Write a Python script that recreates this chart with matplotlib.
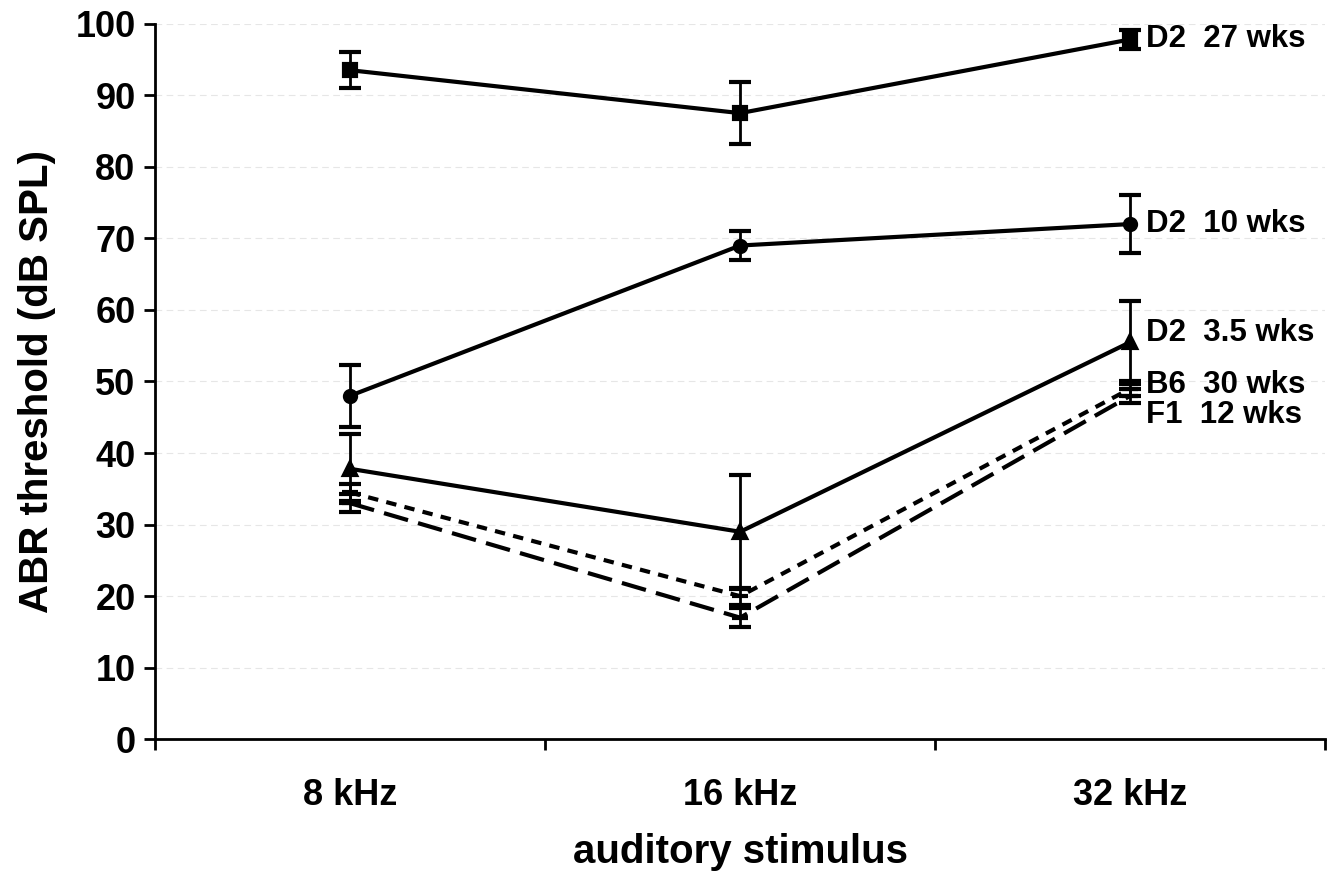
import matplotlib
matplotlib.use('Agg')
import numpy as np
import matplotlib.pyplot as plt

# data
stimuli = ["8 kHz", "16 kHz", "32 kHz"]
labels = ["D2  27 wks", "D2  10 wks", "D2  3.5 wks", "B6  30 wks", "F1  12 wks"]
d2_27 = [93.5, 87.5, 97.8]
d2_27_err = [2.5, 4.3, 1.3]
d2_10 = [48.0, 69.0, 72.0]
d2_10_err = [4.3, 2.0, 4.0]
d2_35 = [37.8, 29.0, 55.5]
d2_35_err = [4.8, 8.0, 5.8]
b6_30 = [34.5, 20.0, 49.0]
b6_30_err = [1.2, 1.2, 1.0]
f1_12 = [33.0, 17.0, 48.0]
f1_12_err = [1.3, 1.3, 1.0]
label_y = [97.8, 72.0, 56.8, 49.5, 45.3]

plt.rcParams['font.family'] = ['Liberation Sans', 'DejaVu Sans']
plt.rcParams['font.weight'] = 'bold'

fig = plt.figure(figsize=(13.36, 8.77), dpi=100)
ax = fig.add_axes([0.116, 0.157, 0.876, 0.816])

x = np.arange(len(stimuli))
series = [
    (d2_27, d2_27_err, 's', '-', 8),
    (d2_10, d2_10_err, 'o', '-', 8),
    (d2_35, d2_35_err, '^', '-', 8),
    (b6_30, b6_30_err, '_', (0, (2.5, 2)), 11),
    (f1_12, f1_12_err, '_', (0, (6, 2.5)), 11),
]
for vals, err, mk, ls, ms in series:
    ax.errorbar(x, vals, yerr=err, color='black', marker=mk, markersize=ms,
                linestyle=ls, linewidth=3, elinewidth=2, capsize=8,
                capthick=2.5, markeredgewidth=3)

for lab, ly in zip(labels, label_y):
    ax.text(2.04, ly, lab, fontsize=22.5, fontweight='bold', va='center', ha='left')

ax.set_xlim(-0.5, 2.5)
ax.set_ylim(0, 100)
ax.set_yticks(np.arange(0, 101, 10))
ax.yaxis.grid(True, color='#e6e6e6', linestyle=(0, (6, 4)), linewidth=0.8)
ax.set_axisbelow(True)
ax.set_xticks(x)
ax.set_xticklabels(stimuli)
ax.set_xticks([-0.5, 0.5, 1.5, 2.5], minor=True)
ax.tick_params(axis='x', which='major', length=0, pad=28, labelsize=26)
ax.tick_params(axis='x', which='minor', length=8, width=2, direction='out')
ax.tick_params(axis='y', length=8, width=2, direction='out', labelsize=26, pad=6)
for lab in ax.get_xticklabels() + ax.get_yticklabels():
    lab.set_fontweight('bold')

for s in ['top', 'right']:
    ax.spines[s].set_visible(False)
for s in ['left', 'bottom']:
    ax.spines[s].set_linewidth(2)

ax.set_xlabel("auditory stimulus", fontsize=29, fontweight='bold', labelpad=14)
ax.set_ylabel("ABR threshold (dB SPL)", fontsize=29, fontweight='bold', labelpad=14)

fig.savefig("out.png", dpi=100)
plt.close()
